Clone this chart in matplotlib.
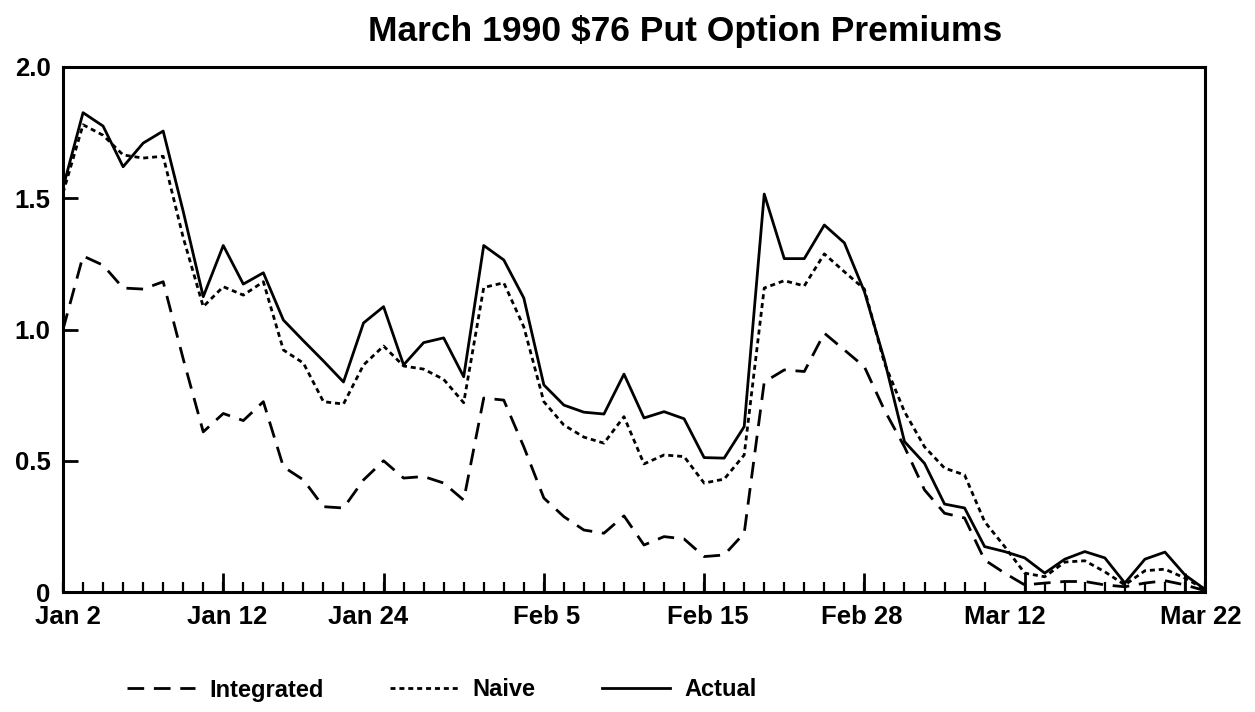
import matplotlib
matplotlib.use("Agg")
import matplotlib.pyplot as plt
import numpy as np

plt.rcParams['font.family'] = ['Liberation Sans', 'DejaVu Sans']
plt.rcParams['font.weight'] = 'bold'

# trading-day index (Jan 2 = 0 ... Mar 22 = 57)
actual = [1.54, 1.826, 1.775, 1.62, 1.71, 1.756, 1.45, 1.125, 1.32, 1.173,
          1.216, 1.036, 0.957, 0.88, 0.80, 1.025, 1.087, 0.865, 0.95, 0.968,
          0.82, 1.32, 1.265, 1.12, 0.789, 0.712, 0.685, 0.678, 0.83, 0.663,
          0.687, 0.66, 0.512, 0.51, 0.63, 1.516, 1.27, 1.27, 1.398, 1.33,
          1.144, 0.884, 0.573, 0.49, 0.335, 0.32, 0.173, 0.154, 0.13, 0.072,
          0.125, 0.154, 0.13, 0.034, 0.125, 0.152, 0.065, 0.01]
naive = [1.52, 1.78, 1.74, 1.665, 1.653, 1.66, 1.35, 1.087, 1.163, 1.131,
         1.182, 0.922, 0.872, 0.725, 0.716, 0.865, 0.937, 0.861, 0.849, 0.81,
         0.721, 1.16, 1.178, 1.01, 0.725, 0.636, 0.59, 0.567, 0.668, 0.488,
         0.522, 0.516, 0.415, 0.43, 0.522, 1.158, 1.186, 1.166, 1.288, 1.22,
         1.154, 0.872, 0.687, 0.553, 0.472, 0.446, 0.268, 0.173, 0.072, 0.058,
         0.114, 0.119, 0.077, 0.027, 0.081, 0.087, 0.053, 0.01]
integrated = [1.0, 1.28, 1.245, 1.158, 1.154, 1.182, 0.888, 0.61, 0.68, 0.653,
              0.725, 0.477, 0.427, 0.325, 0.32, 0.427, 0.50, 0.434, 0.44, 0.415,
              0.35, 0.739, 0.731, 0.553, 0.358, 0.287, 0.236, 0.224, 0.29, 0.179,
              0.211, 0.202, 0.135, 0.141, 0.224, 0.80, 0.846, 0.84, 0.986, 0.922,
              0.858, 0.693, 0.553, 0.389, 0.30, 0.282, 0.122, 0.072, 0.027, 0.034,
              0.04, 0.04, 0.027, 0.02, 0.034, 0.043, 0.027, 0.005]

date_labels = ["Jan 2", "Jan 12", "Jan 24", "Feb 5", "Feb 15", "Feb 28", "Mar 12", "Mar 22"]
date_label_pos = [0.25, 8.2, 15.25, 24.15, 32.2, 39.85, 47.0, 56.8]
major_tick_pos = [8, 16, 24, 32, 40, 48, 56]
y_ticks = [0, 0.5, 1.0, 1.5, 2.0]
y_labels = ["0", "0.5", "1.0", "1.5", "2.0"]

x = np.arange(len(actual))

fig = plt.figure(figsize=(12.55, 7.12), dpi=100)
ax = fig.add_axes([63/1255, 120/712, (1205-63)/1255, (592-67)/712])

ax.plot(x, integrated, color='black', lw=2.0, linestyle=(0, (6, 3.5)), label='Integrated')
ax.plot(x, naive, color='black', lw=2.0, linestyle=(0, (1.8, 1.4)), label='Naive')
ax.plot(x, actual, color='black', lw=2.0, linestyle='-', label='Actual')

ax.set_xlim(0, 57)
ax.set_ylim(0, 2.0)

for s in ax.spines.values():
    s.set_linewidth(2.2)

ax.set_yticks(y_ticks, y_labels)
ax.tick_params(axis='y', direction='in', length=11, width=2, labelsize=18.5, pad=9)

ax.set_xticks(date_label_pos, date_labels)
ax.tick_params(axis='x', which='major', length=0, labelsize=18.5, pad=9)
ax.set_xticks(x, minor=True)
ax.tick_params(axis='x', which='minor', direction='in', length=7, width=1.6)

sec = ax.secondary_xaxis('bottom')
sec.set_xticks(major_tick_pos, [''] * len(major_tick_pos))
sec.tick_params(direction='in', length=14, width=2)
sec.spines['bottom'].set_visible(False)

for lab in ax.get_xticklabels() + ax.get_yticklabels():
    lab.set_fontweight('bold')

fig.text(685/1255, 1 - 32/712, "March 1990 $76 Put Option Premiums",
         fontsize=25.5, fontweight='bold', ha='center', va='center')

fig.legend(loc='center', bbox_to_anchor=(0.352, 1 - 690/712), ncol=3, frameon=False,
           handlelength=2.9, columnspacing=2.8, handletextpad=0.6,
           prop={'size': 17, 'weight': 'bold'})

fig.savefig("out.png", dpi=100)
